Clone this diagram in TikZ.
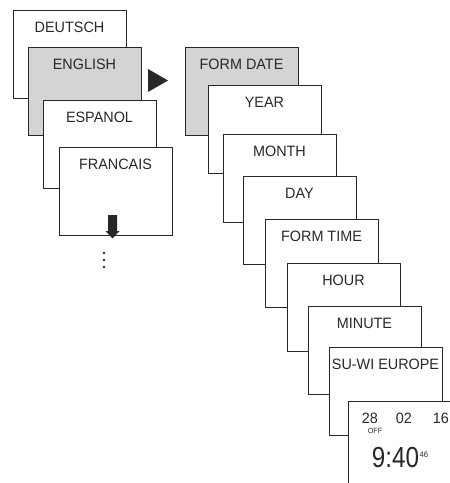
\documentclass[tikz,border=0pt]{standalone}
\usepackage{fontspec}
\setmainfont[FakeStretch=0.96]{Liberation Sans}
\usepackage{tikz}

\definecolor{boxgray}{RGB}{211,212,214}
\definecolor{ink}{RGB}{40,40,40}

\begin{document}
\begin{tikzpicture}[x=1pt, y=-1pt,
        screen/.style = {draw=ink, line width=0.9pt, fill=white},
        title/.style = {text=ink, font=\fontsize{15}{15}\selectfont, inner sep=0pt}]
    \useasboundingbox (0,0) rectangle (450,483);

    % language menu
    \foreach \x/\y/\c/\t [count=\i] in {13/10/white/DEUTSCH, 28/47/boxgray/ENGLISH, 43/100/white/ESPANOL, 59/147/white/FRANCAIS}
    {
        \draw[screen, fill=\c] (\x,\y) rectangle ++(113,88);
        \node[title] (lang\i) at (\x+56.5,\y+17) {\t};
    }

    \fill[ink] (108,215) -- (117,215) -- (117,231) -- (119.5,231) -- (112.5,238.5) -- (105.5,231) -- (108,231) -- cycle;
    \foreach \y in {253,260,267}
        \fill[ink] (104,\y) circle (1.3);

    \fill[ink] (148,69) -- (168,80.5) -- (148,92) -- cycle;

    % settings menu
    \foreach \x/\y/\c/\t [count=\i] in {185/47/boxgray/FORM DATE, 208/85/white/YEAR, 223/134/white/MONTH, 243/176/white/DAY, 265/219/white/FORM TIME, 287/263/white/HOUR, 308/306/white/MINUTE, 329/347/white/SU-WI EUROPE}
    {
        \draw[screen, fill=\c] (\x,\y) rectangle ++(113,88);
        \node[title] (set\i) at (\x+56.5,\y+17) {\t};
    }

    % clock screen
    \fill[white] (348,401) rectangle (451,484);
    \draw[ink, line width=0.9pt] (348,483) -- (348,401) -- (450,401);
    \node[title] (day) at (370,418.5) {28};
    \node[title] (month) at (404,418.5) {02};
    \node[title] (year) at (441,418.5) {16};
    \node[title, font=\fontsize{7.5}{7.5}\selectfont] (off) at (375,431) {OFF};
    \node[title, font=\fontsize{29}{29}\selectfont] (time) at (395.5,457.5) {\scalebox{0.87}[1]{9:40}};
    \node[title, font=\fontsize{8}{8}\selectfont, anchor=west] (sec) at (419.5,455) {46};

\end{tikzpicture}
\end{document}
